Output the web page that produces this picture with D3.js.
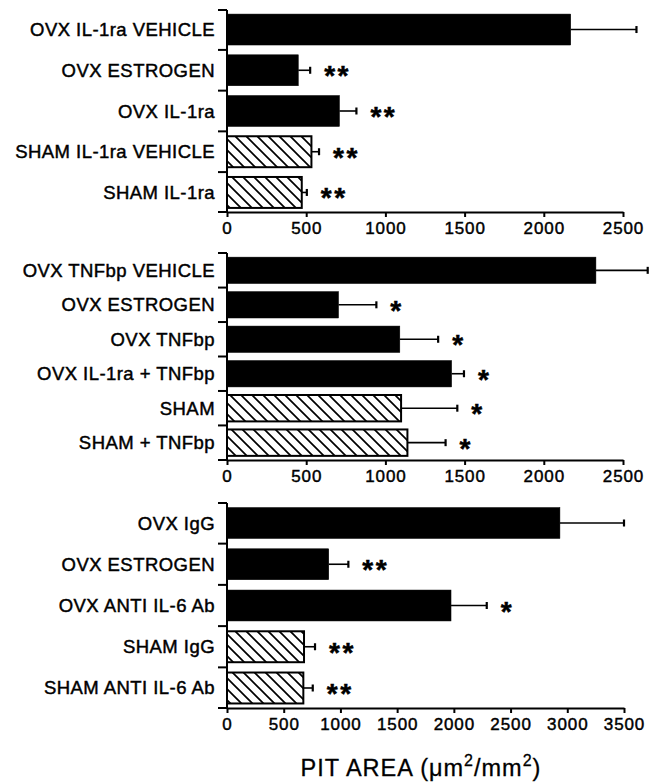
<!DOCTYPE html>
<html>
<head>
<meta charset="utf-8">
<script src="https://cdn.jsdelivr.net/npm/d3@7"></script>
<style>
  html, body { margin: 0; padding: 0; background: #fff; }
  svg { display: block; }
  text { font-family: "Liberation Sans", Arial, Helvetica, sans-serif; fill: #000; }
</style>
</head>
<body>
<svg id="chart" width="657" height="783"></svg>
<script>
// ---- Data ----
const topCategories = ["OVX IL-1ra VEHICLE", "OVX ESTROGEN", "OVX IL-1ra", "SHAM IL-1ra VEHICLE", "SHAM IL-1ra"];
const topValues = [2170, 450, 710, 533, 472];
const topErrors = [415, 75, 107, 48, 32];
const topStars = ["", "**", "**", "**", "**"];
const topHatched = [false, false, false, true, true];

const midCategories = ["OVX TNFbp VEHICLE", "OVX ESTROGEN", "OVX TNFbp", "OVX IL-1ra + TNFbp", "SHAM", "SHAM + TNFbp"];
const midValues = [2329, 704, 1091, 1418, 1099, 1139];
const midErrors = [327, 239, 242, 78, 355, 241];
const midStars = ["", "*", "*", "*", "*", "*"];
const midHatched = [false, false, false, false, true, true];

const botCategories = ["OVX IgG", "OVX ESTROGEN", "OVX ANTI IL-6 Ab", "SHAM IgG", "SHAM ANTI IL-6 Ab"];
const botValues = [2935, 897, 1975, 679, 673];
const botErrors = [565, 173, 315, 97, 83];
const botStars = ["", "**", "*", "**", "**"];
const botHatched = [false, false, false, true, true];

const topTicks = [0, 500, 1000, 1500, 2000, 2500];
const midTicks = [0, 500, 1000, 1500, 2000, 2500];
const botTicks = [0, 500, 1000, 1500, 2000, 2500, 3000, 3500];

const axisTitle = "PIT AREA";

// ---- Drawing ----
const svg = d3.select("#chart");
const defs = svg.append("defs");
const pat = defs.append("pattern")
  .attr("id", "hatch")
  .attr("patternUnits", "userSpaceOnUse")
  .attr("width", 11).attr("height", 11);
pat.append("rect").attr("width", 11).attr("height", 11).attr("fill", "#fff");
pat.append("path")
  .attr("d", "M0,0 L11,11 M-2,9 L2,13 M9,-2 L13,2")
  .attr("stroke", "#000").attr("stroke-width", 1.7);

const x0 = 227;

function panel(cfg) {
  const { cats, vals, errs, stars, hatched, ticks, xMax, xRight, yTop, yBottom, pInner, pOuter } = cfg;
  const x = d3.scaleLinear().domain([0, xMax]).range([x0, xRight]);
  const y = d3.scaleBand().domain(cats).range([yTop, yBottom])
    .paddingInner(pInner).paddingOuter(pOuter);
  const g = svg.append("g");
  const step = y.step(), bw = y.bandwidth();

  cats.forEach((c, i) => {
    const yy = y(c);
    g.append("rect")
      .attr("x", x(0)).attr("y", yy)
      .attr("width", x(vals[i]) - x(0)).attr("height", bw)
      .attr("fill", hatched[i] ? "url(#hatch)" : "#000")
      .attr("stroke", "#000").attr("stroke-width", hatched[i] ? 2 : 0.5);
    const cy = yy + bw / 2;
    const xe = x(vals[i] + errs[i]);
    g.append("line").attr("x1", x(vals[i])).attr("x2", xe)
      .attr("y1", cy).attr("y2", cy).attr("stroke", "#000").attr("stroke-width", 1.6);
    g.append("line").attr("x1", xe).attr("x2", xe)
      .attr("y1", cy - 3.5).attr("y2", cy + 3.5).attr("stroke", "#000").attr("stroke-width", 2.2);
    if (stars[i]) {
      g.append("text")
        .attr("x", xe + 14).attr("y", cy + 15)
        .attr("font-size", 28).attr("font-weight", "bold")
        .attr("letter-spacing", 2.5)
        .attr("stroke", "#000").attr("stroke-width", 0.5)
        .text(stars[i]);
    }
    g.append("text")
      .attr("x", x0 - 12).attr("y", cy + 6.5)
      .attr("text-anchor", "end")
      .attr("font-size", 18.5)
      .attr("letter-spacing", 0.45)
      .attr("stroke", "#000").attr("stroke-width", 0.45)
      .text(c);
  });

  g.append("line").attr("x1", x0).attr("x2", x0)
    .attr("y1", yTop).attr("y2", yBottom)
    .attr("stroke", "#000").attr("stroke-width", 2);
  const bounds = cats.map(c => y(c) - (step - bw) / 2).concat([yBottom]);
  bounds[0] = yTop;
  bounds.forEach(b => {
    g.append("line").attr("x1", x0 - 9).attr("x2", x0)
      .attr("y1", b).attr("y2", b).attr("stroke", "#000").attr("stroke-width", 2);
  });

  const ax = d3.axisBottom(x).tickValues(ticks).tickSizeOuter(0).tickSizeInner(5).tickPadding(5)
    .tickFormat(d3.format("d"));
  const axG = g.append("g").attr("transform", `translate(0,${yBottom})`).call(ax);
  axG.select(".domain").attr("stroke-width", 2).attr("stroke", "#000");
  axG.selectAll(".tick line").attr("stroke-width", 2).attr("stroke", "#000");
  axG.selectAll(".tick text")
    .attr("font-family", "'Liberation Sans', Arial, sans-serif")
    .attr("font-size", 17).attr("fill", "#000")
    .attr("letter-spacing", 0.9)
    .attr("stroke", "#000").attr("stroke-width", 0.45);
  return { x, y };
}

panel({ cats: topCategories, vals: topValues, errs: topErrors, stars: topStars, hatched: topHatched,
  ticks: topTicks, xMax: 2500, xRight: 623, yTop: 10, yBottom: 212, pInner: 0.24, pOuter: 0.1 });
panel({ cats: midCategories, vals: midValues, errs: midErrors, stars: midStars, hatched: midHatched,
  ticks: midTicks, xMax: 2500, xRight: 623, yTop: 253, yBottom: 460, pInner: 0.234, pOuter: 0.12 });
panel({ cats: botCategories, vals: botValues, errs: botErrors, stars: botStars, hatched: botHatched,
  ticks: botTicks, xMax: 3500, xRight: 624, yTop: 503, yBottom: 708, pInner: 0.25, pOuter: 0.11 });

const t = svg.append("text")
  .attr("x", 421).attr("y", 776)
  .attr("text-anchor", "middle")
  .attr("font-size", 23.5)
  .attr("letter-spacing", 1)
  .attr("stroke", "#000").attr("stroke-width", 0.3);
t.append("tspan").text(axisTitle + " (\u03BCm");
t.append("tspan").attr("dy", -10).attr("font-size", 16).text("2");
t.append("tspan").attr("dy", 10).text("/mm");
t.append("tspan").attr("dy", -10).attr("font-size", 16).text("2");
t.append("tspan").attr("dy", 10).text(")");
</script>
</body>
</html>
